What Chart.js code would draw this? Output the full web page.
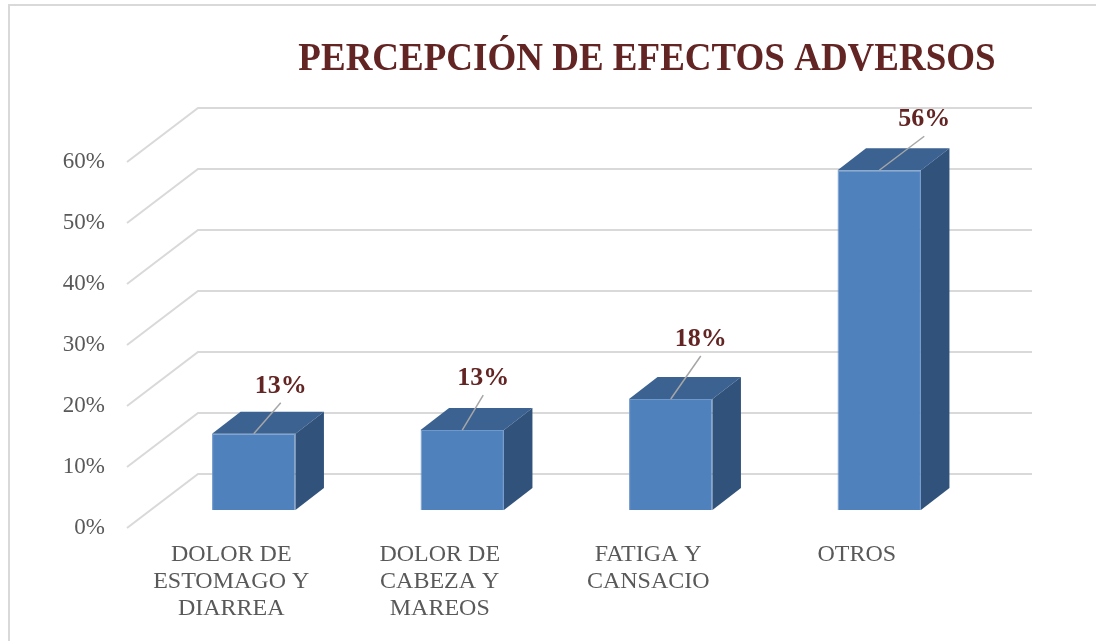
<!DOCTYPE html>
<html>
<head>
<meta charset="utf-8">
<script src="https://cdn.jsdelivr.net/npm/chart.js@4/dist/chart.umd.min.js"></script>
<style>
  body { margin: 0; background: #fff; }
  canvas { display: block; }
</style>
</head>
<body>
<canvas id="chart" width="1096" height="641"></canvas>
<script>
// data
const categories = [
  ['DOLOR DE', 'ESTOMAGO Y', 'DIARREA'],
  ['DOLOR DE', 'CABEZA Y', 'MAREOS'],
  ['FATIGA Y', 'CANSACIO'],
  ['OTROS']
];
const percentages = [12.5, 13.1, 18.2, 55.7];
const yTicks = [0, 10, 20, 30, 40, 50, 60];
const chartTitle = 'PERCEPCIÓN DE EFECTOS ADVERSOS';

// fake 3d geometry, relative to the plane of the bar fronts
const FRONT = { dx: -22.5, dy: 18 };   // front edge of the floor / side wall
const BACK = { dx: 48.5, dy: -36 };    // back wall
const BAR_DEPTH = { dx: 28.5, dy: -22 };
// where each data label was dragged to (from top-front centre of its bar)
const labelNudges = [[27, -31], [21, -35], [30, -43], [45, -34]];

const DARK_RED = '#632523';
const GRID = '#D9D9D9';

const depthPlugin = {
  id: 'depth3d',
  beforeDraw(chart) {
    const ctx = chart.ctx;
    ctx.save();
    ctx.fillStyle = '#fff';
    ctx.fillRect(0, 0, chart.width, chart.height);
    ctx.strokeStyle = GRID;
    ctx.lineWidth = 2;
    ctx.strokeRect(9, 5, chart.width + 20, chart.height + 20);
    ctx.restore();
  },
  beforeDatasetsDraw(chart) {
    const { ctx, chartArea: a, scales: { y } } = chart;
    ctx.save();
    ctx.strokeStyle = GRID;
    ctx.lineWidth = 2;
    y.ticks.forEach(t => {
      const py = y.getPixelForValue(t.value);
      ctx.beginPath();
      ctx.moveTo(a.left + FRONT.dx, py + FRONT.dy);
      ctx.lineTo(a.left + BACK.dx, py + BACK.dy);
      ctx.lineTo(a.right + BACK.dx, py + BACK.dy);
      ctx.stroke();
    });
    ctx.restore();
  },
  afterDatasetsDraw(chart) {
    const ctx = chart.ctx;
    const bars = chart.getDatasetMeta(0).data;
    ctx.save();
    bars.forEach((bar, i) => {
      const { x, y, base, width } = bar.getProps(['x', 'y', 'base', 'width'], true);
      const l = x - width / 2, r = x + width / 2;
      // top face
      ctx.fillStyle = '#3B6291';
      ctx.beginPath();
      ctx.moveTo(l, y);
      ctx.lineTo(r, y);
      ctx.lineTo(r + BAR_DEPTH.dx, y + BAR_DEPTH.dy);
      ctx.lineTo(l + BAR_DEPTH.dx, y + BAR_DEPTH.dy);
      ctx.closePath();
      ctx.fill();
      // side face
      ctx.fillStyle = '#31537B';
      ctx.beginPath();
      ctx.moveTo(r, y);
      ctx.lineTo(r + BAR_DEPTH.dx, y + BAR_DEPTH.dy);
      ctx.lineTo(r + BAR_DEPTH.dx, base + BAR_DEPTH.dy);
      ctx.lineTo(r, base);
      ctx.closePath();
      ctx.fill();

      // leader line + label
      const [nx, ny] = labelNudges[i];
      ctx.strokeStyle = '#A6A6A6';
      ctx.lineWidth = 1.5;
      ctx.beginPath();
      ctx.moveTo(x, y);
      ctx.lineTo(x + nx, y + ny);
      ctx.stroke();
      ctx.fillStyle = DARK_RED;
      ctx.font = 'bold 26px "Liberation Serif"';
      ctx.textAlign = 'center';
      ctx.textBaseline = 'alphabetic';
      ctx.fillText(Math.round(percentages[i]) + '%', x + nx, y + ny - 10);
    });
    ctx.restore();
  },
  afterDraw(chart) {
    const ctx = chart.ctx;
    ctx.save();
    ctx.fillStyle = DARK_RED;
    ctx.font = 'bold 37px "Liberation Serif"';
    ctx.textAlign = 'center';
    ctx.textBaseline = 'alphabetic';
    // the original title is a bit taller than plain Times at this width
    ctx.translate(647, 70);
    ctx.scale(1, 1.1);
    ctx.fillText(chartTitle, 0, 0);
    ctx.restore();
  }
};

new Chart(document.getElementById('chart'), {
  type: 'bar',
  data: {
    labels: categories,
    datasets: [{
      data: percentages,
      backgroundColor: '#4F81BD',
      borderColor: '#6F98CB',
      borderWidth: 1,
      barPercentage: 0.4,
      categoryPercentage: 1
    }]
  },
  options: {
    responsive: false,
    animation: false,
    layout: { padding: { left: 0, top: 144, right: 112.5, bottom: 0 } },
    plugins: {
      legend: { display: false },
      tooltip: { enabled: false },
      title: { display: false }
    },
    scales: {
      x: {
        grid: { display: false, drawTicks: false },
        border: { display: false },
        afterFit(scale) { scale.height = 131; },
        ticks: {
          color: '#595959',
          font: { family: '"Liberation Serif"', size: 24, lineHeight: 1.13 },
          padding: 31,
          labelOffset: FRONT.dx,
          maxRotation: 0,
          autoSkip: false
        }
      },
      y: {
        min: 0,
        max: 60,
        grid: { display: false, drawTicks: false },
        border: { display: false },
        afterFit(scale) { scale.width = 149.5; },
        afterBuildTicks(scale) { scale.ticks = yTicks.map(v => ({ value: v })); },
        ticks: {
          color: '#595959',
          font: { family: '"Liberation Serif"', size: 23 },
          padding: 44.5,
          labelOffset: FRONT.dy,
          callback: v => v + '%'
        }
      }
    }
  },
  plugins: [depthPlugin]
});
</script>
</body>
</html>
